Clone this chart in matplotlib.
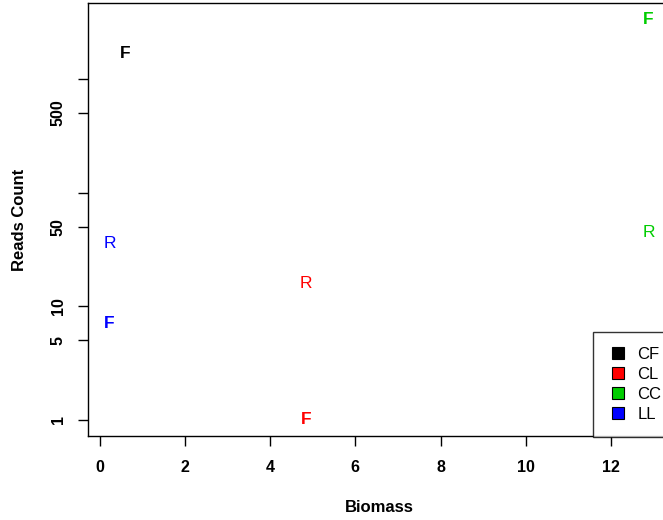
import numpy as np
import matplotlib.pyplot as plt
from matplotlib.lines import Line2D

plt.rcParams['font.family'] = ['Liberation Sans', 'DejaVu Sans']

# Biomass and read counts per group (F = forward, R = reverse)
groups = ['CF', 'CL', 'CC', 'LL']
colors = ['black', '#FF0000', '#00CD00', '#0000FF']
biomass = [0.59, 4.85, 12.88, 0.23]
reads_f = [1660, 1, 3360, 7.1]
reads_r = [np.nan, 15.9, 44.6, 35.7]

yticks = [1, 5, 10, 50, 100, 500, 1000]
ytick_labels = ['1', '5', '10', '50', '', '500', '']
xticks = [0, 2, 4, 6, 8, 10, 12]

W, H = 663, 520
fig = plt.figure(figsize=(W / 100, H / 100), dpi=100)
# plot region runs past the right edge of the figure
ax = fig.add_axes([88 / W, 84 / H, (670 - 88) / W, (436 - 3) / H])

for g, c, x, f, r in zip(groups, colors, biomass, reads_f, reads_r):
    ax.text(x, f, 'F', color=c, fontsize=12.5, fontweight='bold', ha='center', va='center')
    if not np.isnan(r):
        ax.text(x, r, 'R', color=c, fontsize=12.5, ha='center', va='center')

ax.set_yscale('log')
all_x = np.array(biomass)
all_y = np.log10(np.array(reads_f + [v for v in reads_r if not np.isnan(v)]))
xpad = 0.04 * (all_x.max() - all_x.min())
ypad = 0.04 * (all_y.max() - all_y.min())
ax.set_xlim(all_x.min() - xpad, all_x.max() + xpad)
ax.set_ylim(10 ** (all_y.min() - ypad), 10 ** (all_y.max() + ypad))

ax.set_xticks(xticks)
ax.set_xticklabels([str(t) for t in xticks], fontweight='bold', fontsize=11.5)
ax.set_yticks(yticks)
ax.set_yticklabels(ytick_labels, fontweight='bold', fontsize=11.5, rotation=90, va='center')
ax.minorticks_off()
ax.tick_params(direction='out', length=7, width=1)
ax.tick_params(axis='x', pad=10)
ax.tick_params(axis='y', pad=9)
for s in ax.spines.values():
    s.set_linewidth(1)

ax.set_xlabel('Biomass', fontweight='bold', fontsize=12, labelpad=18)
ax.set_ylabel('Reads Count', fontweight='bold', fontsize=12, labelpad=17)

handles = [Line2D([], [], marker='s', linestyle='none', markersize=9,
                  markerfacecolor=c, markeredgecolor='black', markeredgewidth=0.8)
           for c in colors]
leg = ax.legend(handles, groups, loc='upper left',
                bbox_to_anchor=(593 / W, 1 - 332 / H), bbox_transform=fig.transFigure,
                fontsize=12, frameon=True, fancybox=False, borderpad=0.9,
                labelspacing=0.3, handletextpad=0.55, handlelength=1.2, borderaxespad=0)
leg.get_frame().set_edgecolor('black')
leg.get_frame().set_linewidth(1)

fig.savefig('out.png', dpi=100)
